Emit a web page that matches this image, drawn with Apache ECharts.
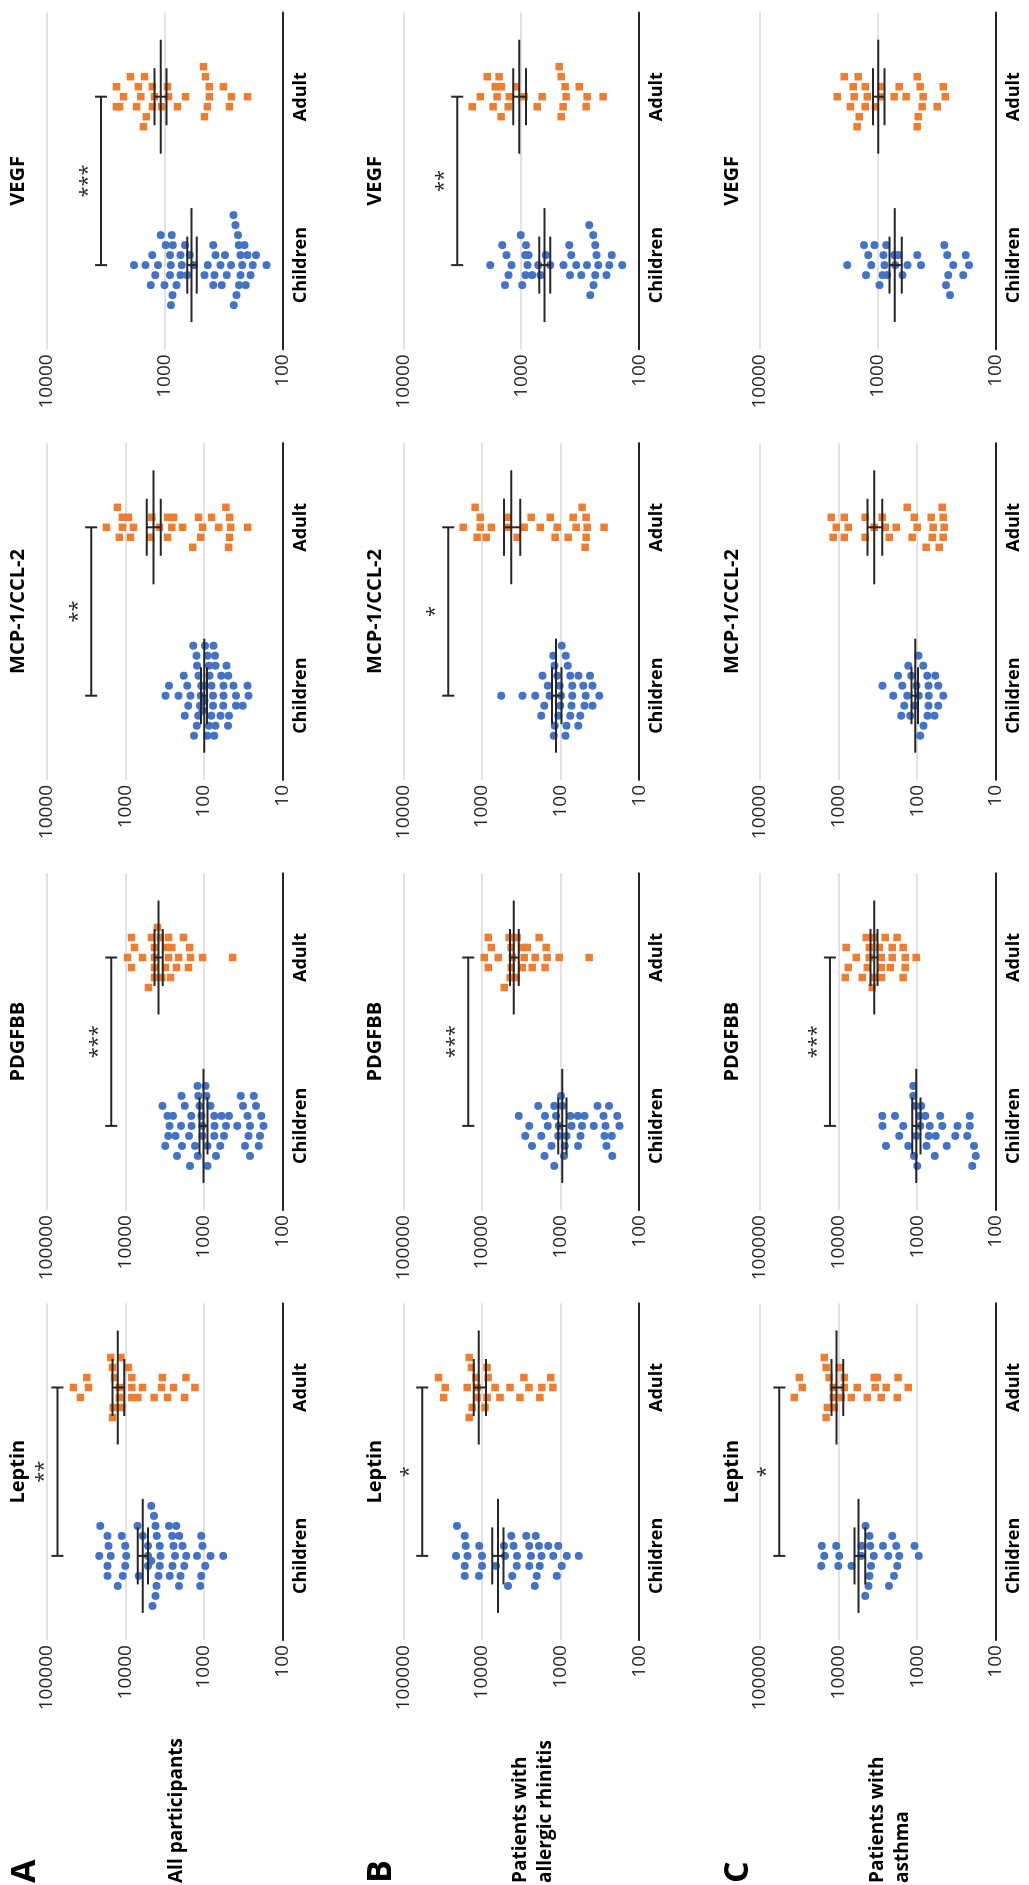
<!DOCTYPE html>
<html><head><meta charset="utf-8">
<script src="https://cdn.jsdelivr.net/npm/echarts@6/dist/echarts.min.js"></script>
<style>
html,body{margin:0;padding:0;background:#fff;width:1029px;height:1885px;overflow:hidden;}
#chart{position:absolute;left:0;top:0;width:1885px;height:1029px;transform-origin:0 0;transform:translate(0,1885px) rotate(-90deg);}
</style></head><body><div id="chart"></div>
<script>
const categories = ['Children', 'Adult'];
const cytokines = ['Leptin', 'PDGFBB', 'MCP-1/CCL-2', 'VEGF'];
const groupLabels = ['All participants', 'Patients with\nallergic rhinitis', 'Patients with\nasthma'];
const panelLetters = ['A', 'B', 'C'];
const axisMin = [100, 100, 10, 100];
const axisMax = [100000, 100000, 10000, 10000];

// [jitter row, value]
const leptinAllChild = [[5,4690],[4,4300],[3,20900],[3,7000],[3,4130],[3,2770],[3,2250],[2,16900],[2,11100],[2,5990],[2,3970],[2,2530],[2,2060],[2,1080],[1,16400],[1,10000],[1,5160],[1,3640],[1,2430],[1,1870],[1,1040],[0,21500],[0,15300],[0,9750],[0,5160],[0,3570],[0,2340],[0,1680],[0,1220],[0,822],[0,568],[-0.5,4690],[-1,16900],[-1,10000],[-1,5160],[-1,3640],[-1,2510],[-1,1780],[-1,962],[-2,16900],[-2,10800],[-2,6730],[-2,3790],[-2,2710],[-2,1980],[-2,1080],[-3,12500],[-3,4010],[-3,2080],[-3,1110],[-4,4130],[-5,4510]];
const leptinAllAdult = [[3,15300],[3,11400],[2,14550],[2,9120],[1,30900],[1,13700],[1,8260],[1,3370],[1,1690],[0,45700],[0,29400],[0,11900],[0,8260],[0,6040],[0,3460],[0,2430],[0,1300],[-1,37200],[-1,11900],[-1,8260],[-1,6930],[-1,4300],[-1,2900],[-1,1760],[-2,14200],[-2,11100],[-3,14550]];
const leptinAllStats = [[5990,5160,6930],[12500,10350,14600]];
const leptinAllSig = [73100,'**'];

const pdgfAllChild = [[4,1205],[4,953],[3,1930],[3,1180],[3,925],[3,341],[3,233],[2,3370],[2,1750],[2,1135],[2,822],[2,318],[2,218],[1,2900],[1,2480],[1,1450],[1,1070],[1,738],[1,596],[1,481],[1,278],[1,186],[0,2740],[0,1960],[0,1440],[0,1050],[0,731],[0,525],[0,376],[0,259],[0,174],[-1,2840],[-1,2300],[-1,1550],[-1,1040],[-1,738],[-1,556],[-1,270],[-1,194],[-2,3100],[-2,1900],[-2,1300],[-2,900],[-2,620],[-2,300],[-2,200],[-3,2200],[-3,1200],[-3,700],[-3,260],[-4,1500],[-4,900]];
const pdgfAllAdult = [[3,3890],[2,8340],[2,4650],[2,3600],[2,2820],[2,1820],[1,7640],[1,4250],[1,3050],[1,2560],[1,1520],[0,9370],[0,6040],[0,4250],[0,2820],[0,2100],[0,1480],[0,1040],[0,431],[-1,8340],[-1,4250],[-1,3080],[-1,2230],[-1,1570],[-2,4250],[-2,3430],[-2,2660],[-3,5070]];
const pdgfAllStats = [[1010,898,1135],[3780,3330,4250]];
const pdgfAllSig = [15100,'***'];

const mcpAllChild = [[5,137],[5,97],[5,75.3],[4,124],[4,89.7],[4,72.4],[3,122],[3,86.3],[3,71],[3,51.4],[2,180],[2,117],[2,84.7],[2,60.1],[2,49],[1,279],[1,163],[1,108],[1,97],[1,79.8],[1,56.2],[1,41.9],[1,27.8],[0,308],[0,210],[0,148],[0,110],[0,76.7],[0,56.2],[0,39.1],[0,27],[-0.5,98.2],[-1,158],[-1,112],[-1,76.7],[-1,56.8],[-1,39.1],[-1,32.1],[-1.5,104],[-2,175],[-2,118],[-2,80.7],[-2,61.3],[-2,48.1],[-3,123],[-3,86.3],[-3,71],[-3,49.5],[-4,134],[-4,90.7],[-4,73.8]];
const mcpAllAdult = [[2,1260],[2,52.5],[1,1090],[1,912],[1,460],[1,290],[1,243],[1,117],[1,79.9],[1,47.1],[0,1740],[0,1090],[0,787],[0,367],[0,256],[0,187],[0,104],[0,65],[0,45.7],[0,27.8],[-1,1190],[-1,859],[-1,477],[-1,290],[-1,110],[-1,47.1],[-2,139],[-2,48.5]];
const mcpAllStats = [[99,91.6,109],[437,353,532]];
const mcpAllSig = [2720,'**'];

const vegfAllChild = [[5,261],[4,251],[3,1080],[3,869],[3,239],[2,977],[2,853],[2,670],[2,387],[2,235],[2,210],[1,1270],[1,898],[1,734],[1,611],[1,370],[1,307],[1,227],[1,198],[1,168],[0,1820],[0,1450],[0,1140],[0,887],[0,715],[0,562],[0,431],[0,336],[0,273],[0,220],[0,179],[0,137],[-1,1200],[-1,898],[-1,734],[-1,644],[-1,459],[-1,378],[-1,297],[-1,227],[-1,187],[-2,1310],[-2,1000],[-2,794],[-2,387],[-2,327],[-2,234],[-2,205],[-3,859],[-3,246],[-4,881],[-4,259]];
const vegfAllAdult = [[3,468],[2,1950],[2,1480],[2,450],[1,2560],[1,1670],[1,1270],[1,946],[1,417],[1,317],[0,2230],[0,1590],[0,1220],[0,927],[0,665],[0,417],[0,271],[0,198],[-1,2560],[-1,2410],[-1,1730],[-1,1270],[-1,1060],[-1,778],[-1,434],[-1,282],[-2,1430],[-2,459],[-3,1510]];
const vegfAllStats = [[592,533,644],[1080,964,1220]];
const vegfAllSig = [3460,'***'];

const leptinArChild = [[3,20700],[2,16500],[2,4230],[2,2730],[2,2060],[1,16000],[1,10800],[1,5240],[1,3950],[1,2490],[1,1880],[1,1430],[1,1070],[0,21300],[0,15300],[0,9950],[0,5080],[0,3580],[0,2380],[0,1740],[0,1240],[0,832],[0,585],[-1,16500],[-1,9950],[-1,6610],[-1,3610],[-1,2490],[-1,1830],[-1,962],[-2,16500],[-2,10900],[-2,4100],[-2,2000],[-2,1120],[-3,4660],[-3,2120]];
const leptinArAdult = [[3,14500],[2,13600],[2,8590],[1,35600],[1,11900],[1,8350],[1,2920],[1,1330],[0,29300],[0,15400],[0,11500],[0,6800],[0,4390],[0,2520],[0,1730],[0,1250],[-1,30700],[-1,11500],[-1,8590],[-1,5890],[-1,3280],[-1,1830],[-2,13300],[-2,9120],[-3,14500]];
const leptinArStats = [[6240,5330,7360],[11000,8860,12700]];
const leptinArSig = [57400,'*'];

const pdgfArChild = [[3,982],[2,1920],[2,1200],[2,953],[2,339],[2,241],[1,3390],[1,1570],[1,1140],[1,753],[1,602],[1,495],[1,284],[1,190],[0,2500],[0,1450],[0,1050],[0,725],[0,531],[0,377],[0,268],[0,178],[-1,2810],[-1,1760],[-1,1070],[-1,840],[-1,557],[-1,276],[-1,223],[-2,2300],[-2,1300],[-2,880],[-2,600],[-2,260],[-3,1600],[-3,900],[-3,220],[-4,1200]];
const pdgfArAdult = [[2,8300],[2,4500],[2,3560],[2,1870],[1,7600],[1,4240],[1,3070],[1,2650],[1,1520],[0,9330],[0,6190],[0,4110],[0,2900],[0,2100],[0,1480],[0,1040],[0,432],[-1,8300],[-1,4240],[-1,3070],[-1,2290],[-1,1570],[-2,4370],[-2,3670],[-3,5200]];
const pdgfArStats = [[953,840,1070],[3920,3390,4400]];
const pdgfArSig = [14900,'***'];

const mcpArChild = [[5,96.1],[4,124],[4,85.5],[3,119],[3,80.7],[2,169],[2,110],[2,75.3],[2,59],[2,42],[1,145],[1,102],[1,71.1],[1,51.5],[1,39.2],[0,567],[0,304],[0,210],[0,138],[0,98.2],[0,71.1],[0,47.6],[0,32.2],[-1,161],[-1,101],[-1,72.4],[-1,49.5],[-1,39.2],[-2,176],[-2,107],[-2,75.3],[-2,56.2],[-3,118],[-3,84],[-3,59.6],[-4,122],[-4,86.3]];
const mcpArAdult = [[2,1220],[2,53.1],[1,1050],[1,476],[1,236],[1,135],[1,69],[1,47.2],[0,1730],[0,1050],[0,760],[0,462],[0,290],[0,181],[0,110],[0,63.2],[0,45.8],[0,27.9],[-1,1150],[-1,881],[-1,356],[-1,117],[-1,80],[-1,47.2],[-2,48.6]];
const mcpArStats = [[114,97,128],[424,326,525]];
const mcpArSig = [2680,'*'];

const vegfArChild = [[4,265],[3,1010],[3,245],[2,1450],[2,912],[2,392],[2,236],[1,1330],[1,924],[1,867],[1,618],[1,377],[1,230],[1,171],[0,1830],[0,1210],[0,883],[0,717],[0,568],[0,438],[0,342],[0,276],[0,222],[0,179],[0,139],[-1,1280],[-1,918],[-1,807],[-1,686],[-1,385],[-1,310],[-1,236],[-1,189],[-2,1370],[-2,982],[-2,244],[-3,260]];
const vegfArAdult = [[3,476],[2,1940],[2,1540],[2,458],[1,1660],[1,1470],[1,1100],[1,424],[1,322],[0,2220],[0,1600],[0,1260],[0,944],[0,664],[0,416],[0,276],[0,202],[-1,2600],[-1,1730],[-1,1290],[-1,731],[-1,441],[-1,281],[-2,1480],[-2,458]];
const vegfArStats = [[634,568,703],[1040,912,1170]];
const vegfArSig = [3490,'**'];

const leptinAsChild = [[3,4540],[2,4030],[2,2080],[1,16400],[1,10700],[1,5110],[1,3950],[1,2730],[1,1850],[1,1080],[0,15200],[0,9820],[0,5150],[0,3560],[0,2340],[0,1690],[0,953],[-1,16600],[-1,10100],[-1,6840],[-1,3880],[-1,1790],[-2,4030],[-2,1980],[-3,4160],[-3,2290],[-4,4580]];
const leptinAsAdult = [[3,15200],[2,14400],[2,9820],[1,31600],[1,13200],[1,8470],[1,3520],[1,3220],[1,1750],[0,29000],[0,11700],[0,8470],[0,5800],[0,3420],[0,2480],[0,1300],[-1,36600],[-1,11700],[-1,9250],[-1,6900],[-1,4320],[-1,2870],[-1,1790],[-2,13900],[-2,11400],[-3,14400]];
const leptinAsStats = [[5570,4580,6270],[10600,8730,12300]];
const leptinAsSig = [56800,'*'];

const pdgfAsChild = [[4,1125],[3,1125],[2,1060],[2,889],[1,2790],[1,1910],[1,944],[1,791],[1,510],[1,214],[0,2760],[0,1510],[0,916],[0,690],[0,481],[0,307],[0,214],[-1,1690],[-1,1020],[-1,711],[-1,580],[-1,329],[-1,231],[-2,2500],[-2,1300],[-2,760],[-2,420],[-2,190],[-3,1100],[-3,600],[-3,180],[-4,1000],[-4,200]];
const pdgfAsAdult = [[2,4450],[2,3520],[2,2550],[2,1800],[1,8000],[1,4070],[1,3040],[1,2080],[1,1510],[0,5960],[0,4070],[0,2870],[0,2080],[0,1420],[0,1030],[-1,7540],[-1,4320],[-1,2870],[-1,2200],[-1,1420],[-2,8220],[-2,5000],[-2,3520],[-2,2840],[-2,1510],[-3,3730]];
const pdgfAsStats = [[1030,908,1160],[3520,3190,3920]];
const pdgfAsSig = [12900,'***'];

const mcpAsChild = [[4,96.2],[3,130],[3,83.9],[2,175],[2,119],[2,74.6],[2,59],[1,276],[1,155],[1,102],[1,71.8],[1,54.1],[0,202],[0,134],[0,95.3],[0,71.1],[0,46.7],[-1,146],[-1,108],[-1,71.8],[-1,54.1],[-2,160],[-2,123],[-2,73.9],[-2,60.2],[-3,83],[-4,91.6]];
const mcpAsAdult = [[2,134],[2,48.1],[1,1240],[1,847],[1,458],[1,279],[1,109],[1,66.4],[1,46.7],[0,1070],[0,754],[0,352],[0,255],[0,185],[0,100],[0,62.6],[0,45.4],[-1,1170],[-1,847],[-1,458],[-1,227],[-1,116],[-1,64.4],[-1,46.7],[-2,76.9],[-2,52.5]];
const mcpAsStats = [[106,98,118],[352,279,428]];
const mcpAsSig = null;

const vegfAsChild = [[2,1310],[2,1070],[2,849],[2,274],[1,1210],[1,896],[1,728],[1,673],[1,464],[1,258],[1,180],[0,1820],[0,1140],[0,879],[0,713],[0,561],[0,430],[0,230],[0,169],[-1,1260],[-1,912],[-1,833],[-1,618],[-1,253],[-1,189],[-2,968],[-2,264],[-3,245]];
const vegfAsAdult = [[2,1930],[2,1470],[2,464],[1,1620],[1,1280],[1,938],[1,660],[1,438],[1,279],[0,2210],[0,1590],[0,1230],[0,938],[0,728],[0,576],[0,413],[0,268],[-1,1710],[-1,1280],[-1,1050],[-1,421],[-1,314],[-2,1440],[-2,455],[-3,1500],[-3,464]];
const vegfAsStats = [[718,629,796],[994,879,1100]];
const vegfAsSig = null;

const panelRows = [
  [[leptinAllChild, leptinAllAdult, leptinAllStats, leptinAllSig], [pdgfAllChild, pdgfAllAdult, pdgfAllStats, pdgfAllSig], [mcpAllChild, mcpAllAdult, mcpAllStats, mcpAllSig], [vegfAllChild, vegfAllAdult, vegfAllStats, vegfAllSig]],
  [[leptinArChild, leptinArAdult, leptinArStats, leptinArSig], [pdgfArChild, pdgfArAdult, pdgfArStats, pdgfArSig], [mcpArChild, mcpArAdult, mcpArStats, mcpArSig], [vegfArChild, vegfArAdult, vegfArStats, vegfArSig]],
  [[leptinAsChild, leptinAsAdult, leptinAsStats, leptinAsSig], [pdgfAsChild, pdgfAsAdult, pdgfAsStats, pdgfAsSig], [mcpAsChild, mcpAsAdult, mcpAsStats, mcpAsSig], [vegfAsChild, vegfAsAdult, vegfAsStats, vegfAsSig]]
];

// ---- layout (chart is drawn upright, then the page rotates it -90deg) ----
const FONT = '"Open Sans", "Noto Sans", sans-serif';
const GRID_LEFT = [244.9, 674.9, 1105.1, 1535.7];
const GRID_W = 336.8;
const GRID_TOP = [46.7, 403.3, 760];
const GRID_H = 235.8;
const JITTER = 0.0594;   // beeswarm step, in category units
const INK = '#262626';

function renderMean(params, api) {
  const c = api.coord([api.value(0), api.value(1)]);
  const lo = api.coord([api.value(0), api.value(2)]);
  const hi = api.coord([api.value(0), api.value(3)]);
  const st = { stroke: INK, lineWidth: 2 };
  return { type: 'group', children: [
    { type: 'line', shape: { x1: c[0] - 57, y1: c[1], x2: c[0] + 57, y2: c[1] }, style: st },
    { type: 'line', shape: { x1: c[0] - 28.5, y1: lo[1], x2: c[0] + 28.5, y2: lo[1] }, style: st },
    { type: 'line', shape: { x1: c[0] - 28.5, y1: hi[1], x2: c[0] + 28.5, y2: hi[1] }, style: st },
    { type: 'line', shape: { x1: c[0], y1: lo[1], x2: c[0], y2: hi[1] }, style: st }
  ]};
}
function makeSigRenderer(label) {
  return function (params, api) {
    const a = api.coord([0, api.value(1)]);
    const b = api.coord([1, api.value(1)]);
    const st = { stroke: INK, lineWidth: 2 };
    return { type: 'group', children: [
      { type: 'line', shape: { x1: a[0], y1: a[1], x2: b[0], y2: b[1] }, style: st },
      { type: 'line', shape: { x1: a[0], y1: a[1] - 6, x2: a[0], y2: a[1] + 6 }, style: st },
      { type: 'line', shape: { x1: b[0], y1: b[1] - 6, x2: b[0], y2: b[1] + 6 }, style: st },
      { type: 'text', style: { text: label, x: (a[0] + b[0]) / 2, y: a[1] - 13, align: 'center', verticalAlign: 'middle', fill: INK, font: '20px ' + FONT } }
    ]};
  };
}

const grid = [], xAxis = [], yAxis = [], series = [], graphic = [];
panelRows.forEach((rowPanels, r) => {
  rowPanels.forEach((p, c) => {
    const gi = grid.length;
    grid.push({ left: GRID_LEFT[c], top: GRID_TOP[r], width: GRID_W, height: GRID_H });
    xAxis.push({ type: 'value', gridIndex: gi, min: -0.5, max: 1.5, show: false });
    xAxis.push({ type: 'category', gridIndex: gi, data: categories, position: 'bottom',
      axisLine: { show: true, onZero: false, lineStyle: { color: INK, width: 2 } },
      axisTick: { show: false }, splitLine: { show: false },
      axisLabel: { fontFamily: FONT, fontWeight: 'bold', fontSize: 18, color: '#000', margin: 9 } });
    yAxis.push({ type: 'log', logBase: 10, gridIndex: gi, min: axisMin[c], max: axisMax[c],
      axisLine: { show: false }, axisTick: { show: false },
      splitLine: { show: true, lineStyle: { color: '#d9d9d9', width: 1.5 } },
      axisLabel: { fontFamily: FONT, fontSize: 19, color: '#262626', margin: 5,
        formatter: v => String(Math.round(v)) } });
    const xi = gi * 2;
    series.push({ type: 'scatter', xAxisIndex: xi, yAxisIndex: gi, symbol: 'circle', symbolSize: 8,
      itemStyle: { color: '#4472C4', opacity: 1 }, silent: true, z: 2,
      data: p[0].map(d => [0 + d[0] * JITTER, d[1]]) });
    series.push({ type: 'scatter', xAxisIndex: xi, yAxisIndex: gi, symbol: 'rect', symbolSize: 7.5,
      itemStyle: { color: '#ED7D31', opacity: 1 }, silent: true, z: 2,
      data: p[1].map(d => [1 + d[0] * JITTER, d[1]]) });
    series.push({ type: 'custom', xAxisIndex: xi, yAxisIndex: gi, renderItem: renderMean, silent: true, z: 5,
      data: p[2].map((s, k) => [k, s[0], s[1], s[2]]) });
    if (p[3]) {
      series.push({ type: 'custom', xAxisIndex: xi, yAxisIndex: gi, renderItem: makeSigRenderer(p[3][1]), silent: true, z: 5,
        data: [[0, p[3][0]]] });
    }
    graphic.push({ type: 'text', x: GRID_LEFT[c] + GRID_W / 2, y: GRID_TOP[r] - 28,
      style: { text: cytokines[c], align: 'center', verticalAlign: 'middle', fill: '#000', font: 'bold 20px ' + FONT } });
  });
  graphic.push({ type: 'text', x: 2, y: GRID_TOP[r] + GRID_H / 2 + 12,
    style: { text: groupLabels[r], align: 'left', verticalAlign: 'middle', lineHeight: 25, fill: '#000', font: 'bold 19px ' + FONT } });
  graphic.push({ type: 'text', x: 2, y: GRID_TOP[r] - 21.5,
    style: { text: panelLetters[r], align: 'left', verticalAlign: 'middle', fill: '#000', font: 'bold 34px ' + FONT } });
});

const chart = echarts.init(document.getElementById('chart'), null, { width: 1885, height: 1029 });
chart.setOption({ animation: false, backgroundColor: '#fff', grid, xAxis, yAxis, series, graphic });
</script></body></html>
